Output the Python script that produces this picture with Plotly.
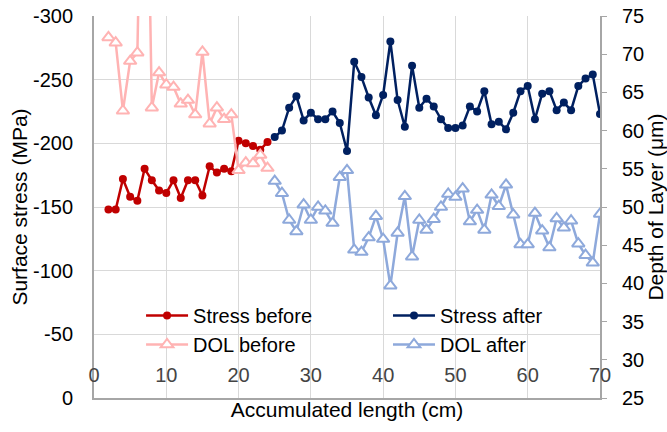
import plotly.graph_objects as go

x_before = list(range(2, 25))
stress_before = [-148, -148, -172, -158, -155, -180, -171, -163, -161, -171, -157, -171,
                 -171, -159, -182, -177, -180, -178, -202, -200, -198, -195, -201]
dol_before = [72.2, 71.5, 62.6, 69.1, 70.2, 118.0, 63.0, 67.6, 66.0, 65.7, 63.5, 64.0,
              62.1, 70.3, 60.9, 63.0, 61.5, 62.1, 54.8, 55.8, 55.7, 56.8, 55.1]

x_after = list(range(25, 71))
stress_after = [-205, -210, -228, -237, -218, -224, -219, -219, -225, -216, -194, -264,
                -252, -236, -222, -238, -280, -234, -213, -261, -228, -235, -229, -219,
                -212, -212, -214, -229, -225, -241, -215, -217, -211, -224, -241, -245,
                -219, -239, -241, -226, -232, -226, -245, -251, -254, -223]
dol_after = [53.4, 51.8, 48.3, 46.8, 50.3, 48.3, 50.0, 49.5, 47.9, 53.9, 54.8, 44.4,
             44.1, 46.0, 48.8, 45.8, 39.7, 46.6, 51.4, 43.5, 48.3, 47.0, 48.4, 50.0,
             51.7, 51.3, 52.4, 48.1, 49.6, 47.0, 51.6, 50.1, 52.9, 49.0, 45.1, 45.1,
             49.2, 46.9, 44.7, 48.5, 47.3, 48.2, 45.2, 43.7, 42.7, 49.1]

stress_ticks = [0, -50, -100, -150, -200, -250, -300]
stress_tick_labels = ["0", "-50", "-100", "-150", "-200", "-250", "-300"]

FONT = "Arial"
FS = 20
FT = 21
C_SB = "#C00000"
C_SA = "#002060"
C_DB = "#FFB3B3"
C_DA = "#8EA9DB"
GRID = "#D9D9D9"
AXIS = "#A6A6A6"

fig = go.Figure()
fig.add_trace(go.Scatter(x=x_before, y=stress_before, name="Stress before", mode="lines+markers",
                         line=dict(color=C_SB, width=2.5),
                         marker=dict(symbol="circle", size=8, color=C_SB),
                         yaxis="y", legend="legend"))
fig.add_trace(go.Scatter(x=x_after, y=stress_after, name="Stress after", mode="lines+markers",
                         line=dict(color=C_SA, width=2.5),
                         marker=dict(symbol="circle", size=8, color=C_SA),
                         yaxis="y", legend="legend2"))
fig.add_trace(go.Scatter(x=x_before, y=dol_before, name="DOL before", mode="lines+markers",
                         line=dict(color=C_DB, width=2.5),
                         marker=dict(symbol="triangle-up", size=11, color="white",
                                     line=dict(color=C_DB, width=2)),
                         yaxis="y2", legend="legend"))
fig.add_trace(go.Scatter(x=x_after, y=dol_after, name="DOL after", mode="lines+markers",
                         line=dict(color=C_DA, width=2.5),
                         marker=dict(symbol="triangle-up", size=11, color="white",
                                     line=dict(color=C_DA, width=2)),
                         yaxis="y2", legend="legend2"))

leg_common = dict(orientation="v", xanchor="left", yanchor="top", bgcolor="rgba(0,0,0,0)",
                  font=dict(family=FONT, size=FS, color="black"), itemwidth=42,
                  traceorder="normal", tracegroupgap=0)

fig.update_layout(
    width=667, height=432,
    margin=dict(l=94, r=67, t=16, b=34, autoexpand=False),
    paper_bgcolor="white", plot_bgcolor="white",
    font=dict(family=FONT, size=FS, color="black"),
    showlegend=True,
    legend=dict(x=0.093, y=0.267, **leg_common),
    legend2=dict(x=0.581, y=0.267, **leg_common),
    xaxis=dict(range=[0, 70], dtick=10, showgrid=True, gridcolor=GRID, gridwidth=1,
               showline=True, linecolor=AXIS, linewidth=2, ticks="", zeroline=False,
               automargin=False,
               ticklabelposition="inside", ticklabeloverflow="allow", ticklabelstandoff=13,
               title=dict(text="Accumulated length (cm)", standoff=17,
                          font=dict(size=FT))),
    yaxis=dict(range=[0, -300], tickvals=stress_ticks, ticktext=stress_tick_labels,
               showgrid=True, gridcolor=GRID, gridwidth=1, automargin=False,
               showline=True, linecolor=AXIS, linewidth=2, ticks="", zeroline=False,
               ticklabelstandoff=15,
               title=dict(text="Surface stress (MPa)", standoff=0, font=dict(size=FT))),
    yaxis2=dict(range=[25, 75], dtick=5, overlaying="y", side="right", showgrid=False,
                showline=True, linecolor=AXIS, linewidth=2, ticks="outside", ticklen=5,
                tickcolor=AXIS, zeroline=False, ticklabelstandoff=11, automargin=False,
                title=dict(text="Depth of Layer (μm)", standoff=0, font=dict(size=FT))),
)

fig.write_html("out.html")
